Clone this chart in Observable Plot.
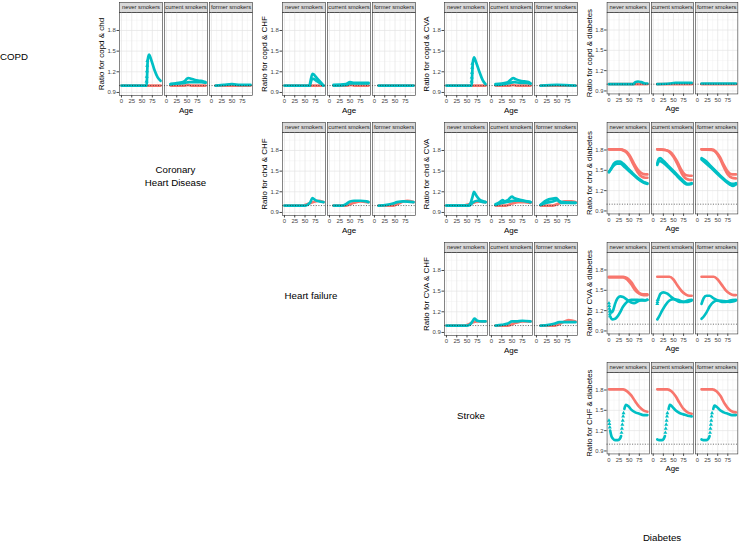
<!DOCTYPE html>
<html><head><meta charset="utf-8">
<script src="https://cdn.jsdelivr.net/npm/d3@7"></script>
<script src="https://cdn.jsdelivr.net/npm/@observablehq/plot@0.6"></script>
<style>
body{margin:0;background:#fff;}
#root{position:relative;width:740px;height:541px;overflow:hidden;font-family:"Liberation Sans",Arial,sans-serif;}
.grp{position:absolute;}
.lbl{position:absolute;font-size:9.7px;color:#000;text-align:center;line-height:13px;white-space:nowrap;transform:translate(-50%,-50%);}
</style></head><body><div id="root"></div>
<script>
const facets = ["never smokers","current smokers","former smokers"];
const xTicks = [0,25,50,75];
const xMinor = [12.5,37.5,62.5,87.5];
const yTicks = [0.9,1.2,1.5,1.8];
const yMinor = [1.05,1.35,1.65,1.95];
const reference = [1];
const N = "never smokers", C = "current smokers", F = "former smokers";
// colour groups: "g1" = first group (salmon), "g2" = second group (teal)
const colourGroups = ["g1","g2"];

// [facet, colour group, [[age, ratio], ...]]
const copd_chd = [
 [N,"g1",[[0,1.0],[95,1.0]]],
 [C,"g1",[[10,1.0],[45,1.0],[52,1.01],[60,1.0],[95,1.0]]],
 [F,"g1",[[10,1.0],[95,1.0]]],
 [N,"g2",[[0,1.0],[61,1.0],[64,1.38],[67,1.45],[72,1.38],[80,1.23],[88,1.12],[95,1.07]]],
 [C,"g2",[[10,1.02],[20,1.03],[30,1.04],[40,1.05],[45,1.07],[50,1.1],[53,1.11],[60,1.1],[70,1.08],[80,1.07],[90,1.06],[95,1.05]]],
 [C,"g2",[[10,1.02],[30,1.03],[45,1.04],[55,1.05],[70,1.05],[85,1.05],[95,1.04]]],
 [F,"g2",[[10,1.0],[30,1.01],[50,1.02],[70,1.01],[95,1.01]]]
];
const copd_chd_pts = [[N,[[61,1.06],[61.5,1.13],[62,1.21],[62.5,1.29],[63,1.36]]]];

const copd_chf = [
 [N,"g1",[[0,1.0],[95,1.0]]],
 [C,"g1",[[10,1.0],[45,1.0],[52,1.01],[60,1.0],[95,1.0]]],
 [F,"g1",[[10,1.0],[95,1.0]]],
 [N,"g2",[[0,1.0],[60,1.0],[68,1.17],[80,1.1],[95,1.0]]],
 [N,"g2",[[62,1.0],[68,1.1],[80,1.06],[95,1.0]]],
 [C,"g2",[[10,1.01],[40,1.02],[50,1.05],[60,1.04],[95,1.04]]],
 [C,"g2",[[10,1.0],[40,1.01],[50,1.03],[95,1.03]]],
 [F,"g2",[[10,1.0],[95,1.0]]]
];
const copd_chf_pts = [];

const copd_cva = [
 [N,"g1",[[0,1.0],[95,1.0]]],
 [C,"g1",[[10,1.0],[45,1.0],[52,1.01],[60,1.0],[95,1.0]]],
 [F,"g1",[[10,1.0],[95,1.0]]],
 [N,"g2",[[0,1.0],[61,1.0],[64,1.33],[67,1.41],[72,1.34],[80,1.2],[88,1.08],[95,1.02]]],
 [C,"g2",[[10,1.02],[25,1.03],[40,1.05],[50,1.1],[53,1.11],[60,1.09],[70,1.07],[80,1.06],[90,1.05],[95,1.03]]],
 [C,"g2",[[10,1.01],[30,1.02],[45,1.04],[55,1.05],[70,1.04],[85,1.04],[95,1.03]]],
 [F,"g2",[[10,1.0],[50,1.01],[95,1.0]]]
];
const copd_cva_pts = [[N,[[61,1.06],[61.5,1.12],[62,1.19],[62.5,1.26],[63,1.32]]]];

const copd_diab = [
 [N,"g1",[[0,1.0],[95,1.0]]],
 [C,"g1",[[10,1.0],[95,1.0]]],
 [F,"g1",[[10,1.0],[95,1.0]]],
 [N,"g2",[[0,1.0],[60,1.0],[65,1.03],[72,1.04],[80,1.03],[90,1.01],[95,1.01]]],
 [C,"g2",[[10,1.0],[40,1.01],[55,1.02],[75,1.02],[95,1.02]]],
 [F,"g2",[[10,1.01],[95,1.01]]]
];
const copd_diab_pts = [];

const chd_chf = [
 [N,"g1",[[0,1.0],[45,1.0],[55,1.02],[65,1.04],[75,1.06],[85,1.07],[95,1.05]]],
 [C,"g1",[[10,1.0],[40,1.0],[50,1.02],[60,1.04],[75,1.06],[90,1.05],[95,1.05]]],
 [F,"g1",[[10,1.0],[45,1.0],[55,1.02],[70,1.06],[80,1.07],[95,1.05]]],
 [N,"g2",[[0,1.0],[50,1.0],[58,1.02],[63,1.05],[68,1.11],[75,1.08],[85,1.06],[95,1.05]]],
 [C,"g2",[[10,1.0],[30,1.0],[40,1.02],[50,1.06],[60,1.07],[75,1.07],[90,1.06],[95,1.05]]],
 [F,"g2",[[10,1.0],[30,1.01],[45,1.03],[55,1.05],[70,1.06],[95,1.05]]]
];
const chd_chf_pts = [];

const chd_cva = [
 [N,"g1",[[0,1.0],[40,1.0],[55,1.02],[70,1.05],[80,1.06],[95,1.05]]],
 [C,"g1",[[10,1.0],[35,1.0],[50,1.03],[65,1.05],[80,1.05],[95,1.04]]],
 [F,"g1",[[10,1.0],[40,1.0],[55,1.03],[70,1.06],[85,1.06],[95,1.05]]],
 [N,"g2",[[0,1.0],[50,1.0],[58,1.03],[63,1.12],[67,1.2],[72,1.15],[80,1.09],[90,1.06],[95,1.05]]],
 [N,"g2",[[0,1.0],[55,1.0],[65,1.05],[75,1.07],[90,1.05],[95,1.05]]],
 [C,"g2",[[10,1.02],[20,1.05],[27,1.08],[32,1.06],[40,1.08],[50,1.13],[55,1.11],[65,1.09],[80,1.07],[95,1.05]]],
 [C,"g2",[[10,1.01],[20,1.03],[35,1.05],[45,1.06],[55,1.07],[70,1.07],[85,1.06],[95,1.05]]],
 [F,"g2",[[10,1.01],[20,1.06],[30,1.09],[40,1.1],[48,1.11],[55,1.07],[65,1.05],[95,1.04]]],
 [F,"g2",[[10,1.01],[25,1.04],[40,1.06],[50,1.08],[60,1.04],[95,1.04]]]
];
const chd_cva_pts = [];

const chd_diab = [
 [N,"g1",[[0,1.81],[25,1.81],[40,1.79],[50,1.73],[60,1.62],[70,1.52],[80,1.46],[90,1.44],[95,1.44]]],
 [N,"g1",[[0,1.81],[25,1.81],[40,1.78],[50,1.71],[60,1.59],[70,1.48],[80,1.41],[90,1.39],[95,1.39]]],
 [C,"g1",[[10,1.81],[30,1.8],[40,1.78],[50,1.72],[60,1.62],[70,1.5],[80,1.43],[90,1.42],[95,1.42]]],
 [C,"g1",[[10,1.81],[30,1.8],[40,1.77],[50,1.7],[60,1.59],[70,1.46],[80,1.38],[90,1.36],[95,1.36]]],
 [F,"g1",[[10,1.81],[35,1.81],[45,1.78],[55,1.7],[65,1.58],[75,1.48],[85,1.44],[95,1.44]]],
 [F,"g1",[[10,1.81],[35,1.8],[45,1.77],[55,1.68],[65,1.55],[75,1.44],[85,1.39],[95,1.38]]],
 [N,"g2",[[0,1.48],[5,1.52],[12,1.6],[20,1.63],[28,1.63],[35,1.6],[45,1.54],[55,1.48],[65,1.42],[75,1.37],[85,1.33],[95,1.31]]],
 [N,"g2",[[0,1.47],[10,1.56],[20,1.6],[28,1.6],[40,1.54],[55,1.46],[70,1.38],[85,1.32],[95,1.3]]],
 [C,"g2",[[10,1.6],[13,1.66],[17,1.68],[25,1.64],[35,1.58],[45,1.52],[55,1.46],[65,1.4],[75,1.34],[85,1.3],[95,1.31]]],
 [C,"g2",[[10,1.58],[15,1.64],[25,1.61],[40,1.53],[55,1.44],[70,1.35],[85,1.29],[95,1.3]]],
 [F,"g2",[[10,1.68],[20,1.64],[30,1.58],[40,1.52],[50,1.46],[60,1.4],[70,1.35],[80,1.31],[88,1.3],[95,1.31]]],
 [F,"g2",[[10,1.66],[20,1.61],[35,1.53],[50,1.44],[65,1.36],[80,1.29],[88,1.27],[95,1.29]]]
];
const chd_diab_pts = [];

const cva_chf = [
 [N,"g1",[[0,1.0],[45,1.0],[55,1.02],[65,1.05],[75,1.06],[90,1.06],[95,1.06]]],
 [C,"g1",[[10,1.0],[40,1.0],[50,1.02],[60,1.04],[75,1.06],[95,1.06]]],
 [F,"g1",[[10,1.0],[45,1.0],[55,1.02],[65,1.05],[78,1.08],[88,1.07],[95,1.06]]],
 [N,"g2",[[0,1.0],[50,1.0],[58,1.02],[63,1.06],[68,1.1],[75,1.07],[85,1.06],[95,1.06]]],
 [C,"g2",[[10,1.0],[25,1.01],[40,1.03],[50,1.06],[60,1.06],[75,1.07],[95,1.06]]],
 [F,"g2",[[10,1.0],[30,1.01],[45,1.03],[55,1.05],[70,1.05],[95,1.05]]]
];
const cva_chf_pts = [];

const cva_diab = [
 [N,"g1",[[0,1.7],[35,1.7],[45,1.68],[55,1.62],[65,1.53],[75,1.46],[85,1.44],[95,1.44]]],
 [N,"g1",[[0,1.69],[35,1.69],[45,1.66],[55,1.59],[65,1.5],[75,1.45],[85,1.43],[95,1.43]]],
 [C,"g1",[[10,1.7],[40,1.7],[50,1.66],[60,1.57],[70,1.49],[80,1.44],[90,1.42],[95,1.42]]],
 [F,"g1",[[10,1.7],[40,1.7],[50,1.66],[60,1.58],[70,1.5],[80,1.45],[90,1.43],[95,1.43]]],
 [N,"g2",[[3,1.2],[6,1.17],[10,1.2],[15,1.3],[22,1.39],[28,1.41],[35,1.4],[45,1.36],[55,1.32],[62,1.31],[72,1.34],[82,1.36],[90,1.35],[95,1.36]]],
 [N,"g2",[[4,1.1],[8,1.07],[15,1.08],[25,1.15],[35,1.26],[45,1.33],[55,1.36],[70,1.36],[85,1.35],[95,1.36]]],
 [C,"g2",[[12,1.36],[18,1.45],[25,1.47],[35,1.45],[45,1.4],[55,1.36],[65,1.33],[75,1.33],[85,1.35],[95,1.36]]],
 [C,"g2",[[10,1.07],[15,1.12],[22,1.2],[30,1.28],[40,1.35],[50,1.37],[60,1.36],[75,1.33],[85,1.33],[95,1.35]]],
 [F,"g2",[[10,1.3],[15,1.38],[22,1.42],[30,1.42],[40,1.38],[50,1.35],[60,1.33],[70,1.33],[80,1.35],[95,1.36]]],
 [F,"g2",[[10,1.08],[15,1.11],[22,1.17],[30,1.26],[40,1.33],[50,1.35],[65,1.34],[80,1.33],[90,1.34],[95,1.35]]]
];
const cva_diab_pts = [[N,[[0,1.31],[0.5,1.27],[1,1.23],[1.5,1.19],[2,1.15],[2.5,1.12]]],[C,[[10,1.3],[10.5,1.33],[11,1.36]]]];

const chf_diab = [
 [N,"g1",[[0,1.81],[35,1.81],[45,1.78],[55,1.72],[65,1.63],[75,1.55],[85,1.5],[95,1.48]]],
 [C,"g1",[[10,1.81],[35,1.81],[45,1.78],[55,1.71],[65,1.61],[75,1.52],[85,1.47],[95,1.45]]],
 [F,"g1",[[10,1.81],[37,1.81],[47,1.78],[57,1.71],[67,1.6],[77,1.52],[87,1.48],[95,1.47]]],
 [N,"g2",[[3,1.2],[6,1.12],[10,1.08],[15,1.06],[22,1.06],[27,1.08],[30,1.12]]],
 [N,"g2",[[38,1.52],[42,1.58],[48,1.56],[55,1.51],[65,1.47],[75,1.45],[85,1.43],[95,1.43]]],
 [C,"g2",[[10,1.07],[15,1.06],[22,1.06],[26,1.08],[29,1.12]]],
 [C,"g2",[[38,1.52],[41,1.58],[46,1.56],[55,1.5],[65,1.46],[75,1.44],[85,1.42],[95,1.41]]],
 [F,"g2",[[10,1.07],[15,1.06],[22,1.06],[27,1.08],[30,1.12]]],
 [F,"g2",[[39,1.52],[42,1.57],[48,1.55],[56,1.5],[65,1.47],[75,1.45],[85,1.43],[95,1.43]]]
];
const chf_diab_pts = [
 [N,[[0,1.35],[1,1.3],[2,1.25],[31,1.17],[32,1.23],[33,1.29],[34,1.35],[35,1.41],[36,1.46]]],
 [C,[[30,1.17],[31,1.23],[32,1.29],[33,1.35],[34,1.41],[35,1.46]]],
 [F,[[31,1.17],[32,1.23],[33,1.29],[34,1.35],[35,1.41],[36,1.46]]]
];

const groups = [
 {row:0,col:0,title:"Ratio for copd & chd",series:copd_chd,pts:copd_chd_pts},
 {row:0,col:1,title:"Ratio for copd & CHF",series:copd_chf,pts:copd_chf_pts},
 {row:0,col:2,title:"Ratio for copd & CVA",series:copd_cva,pts:copd_cva_pts},
 {row:0,col:3,title:"Ratio for copd & diabetes",series:copd_diab,pts:copd_diab_pts},
 {row:1,col:1,title:"Ratio for chd & CHF",series:chd_chf,pts:chd_chf_pts},
 {row:1,col:2,title:"Ratio for chd & CVA",series:chd_cva,pts:chd_cva_pts},
 {row:1,col:3,title:"Ratio for chd & diabetes",series:chd_diab,pts:chd_diab_pts},
 {row:2,col:2,title:"Ratio for CVA & CHF",series:cva_chf,pts:cva_chf_pts},
 {row:2,col:3,title:"Ratio for CVA & diabetes",series:cva_diab,pts:cva_diab_pts},
 {row:3,col:3,title:"Ratio for CHF & diabetes",series:chf_diab,pts:chf_diab_pts}
];

const diagLabels = [
 {text:"COPD", x:0, y:56, left:true},
 {text:"Coronary<br>Heart Disease", x:175.5, y:176},
 {text:"Heart failure", x:311, y:295},
 {text:"Stroke", x:471, y:415},
 {text:"Diabetes", x:662, y:537}
];

const RED = "#F8766D", TEAL = "#00BFC4";
const ML = 26, MR = 2, MT = 10, MB = 22, PH = 83;
const FW = 133.6;
const W = ML + FW + MR, H = MT + PH + MB;
const root = document.getElementById("root");

function makeGroup(g){
  const rows = g.series.flatMap(([f,c,pts],i) => pts.map(([a,v]) => ({facet:f, grp:c, series:i, age:a, value:v})));
  const dots = g.pts.flatMap(([f,pts]) => pts.map(([a,v]) => ({facet:f, age:a, value:v})));
  return Plot.plot({
    width: W, height: H,
    marginLeft: ML, marginRight: MR, marginTop: MT, marginBottom: MB,
    style: {fontFamily: "'Liberation Sans', Arial, sans-serif", background: "transparent", overflow: "visible"},
    fx: {domain: facets, paddingInner: 0.051, paddingOuter: 0, axis: null, label: null},
    x: {domain: [-4.75, 99.75], axis: null},
    y: {domain: [0.856, 2.061], axis: null},
    color: {type: "ordinal", domain: colourGroups, range: [RED, TEAL]},
    marks: [
      Plot.frame({fill: "#d9d9d9", stroke: "#333", strokeWidth: 0.6, insetTop: -MT, insetBottom: PH}),
      Plot.gridX(xMinor, {stroke: "#f0f0f0", strokeOpacity: 1, strokeWidth: 0.45}),
      Plot.gridY(yMinor, {stroke: "#f0f0f0", strokeOpacity: 1, strokeWidth: 0.45}),
      Plot.gridX(xTicks, {stroke: "#e4e4e4", strokeOpacity: 1, strokeWidth: 0.7}),
      Plot.gridY(yTicks, {stroke: "#e4e4e4", strokeOpacity: 1, strokeWidth: 0.7}),
      Plot.line(rows, {fx: "facet", x: "age", y: "value", z: "series", stroke: "grp", strokeWidth: 2.7, curve: "monotone-x"}),
      Plot.dot(dots, {fx: "facet", x: "age", y: "value", symbol: "triangle", r: 1.5, fill: TEAL}),
      Plot.ruleY(reference, {stroke: "#222", strokeWidth: 0.7, strokeDasharray: "1,1.6"}),
      Plot.frame({stroke: "#333", strokeWidth: 0.6}),
      Plot.axisY(yTicks, {tickSize: 2.5, tickPadding: 1.2, fontSize: 6, color: "#444", label: null, tickFormat: d => d.toFixed(1)}),
      Plot.axisX(xTicks, {tickSize: 2.5, tickPadding: 1, fontSize: 6, color: "#444", label: null}),
      Plot.text(facets, {fx: d => d, text: d => d, frameAnchor: "top", dy: -5, lineAnchor: "middle", fontSize: 5.8, fill: "#1a1a1a"}),
      Plot.text([g.title], {fx: () => N, frameAnchor: "left", textAnchor: "middle", rotate: -90, dx: -18, lineAnchor: "middle", fontSize: 8, fill: "#000"}),
      Plot.text(["Age"], {fx: () => C, frameAnchor: "bottom", dy: 15, lineAnchor: "middle", fontSize: 8, fill: "#000"})
    ]
  });
}

for (const g of groups) {
  const svg = makeGroup(g);
  const wrap = document.createElement("div");
  wrap.className = "grp";
  wrap.style.left = (119 + 162.7 * g.col - ML) + "px";
  wrap.style.top = (1.5 + 120 * g.row) + "px";
  wrap.appendChild(svg);
  root.appendChild(wrap);
}
for (const l of diagLabels) {
  const d = document.createElement("div");
  d.className = "lbl";
  d.innerHTML = l.text;
  d.style.left = l.x + "px";
  d.style.top = l.y + "px";
  if (l.left) { d.style.transform = "translate(0,-50%)"; d.style.textAlign = "left"; }
  root.appendChild(d);
}
</script></body></html>
